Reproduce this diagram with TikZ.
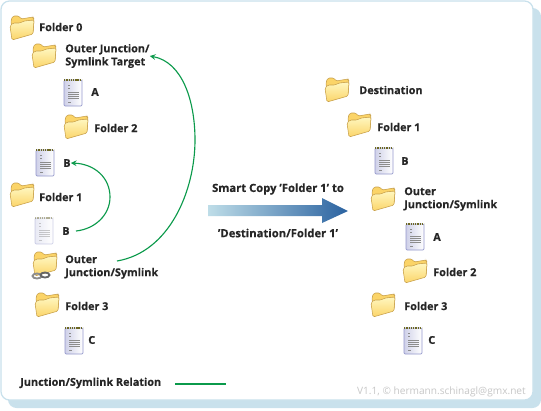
\documentclass[tikz,border=0pt]{standalone}
\usepackage{fontspec}
\setmainfont[BoldFeatures={FakeBold=0.35}]{Open Sans}
\definecolor{panelblue}{HTML}{C9E1EC}
\definecolor{linkgreen}{HTML}{0B9A4B}
\definecolor{foldedge}{HTML}{C8A04A}
\definecolor{foldlight}{HTML}{FFF7C0}
\definecolor{folddark}{HTML}{FBD468}
\definecolor{docedge}{HTML}{9498CC}
\definecolor{arrowlight}{HTML}{BEDDE8}
\definecolor{arrowdark}{HTML}{2A62A0}
\begin{document}
\begin{tikzpicture}[
    x=0.025cm, y=-0.025cm,
    lbl/.style={anchor=west, inner sep=0pt, align=left, font=\fontsize{7.7}{9.3}\selectfont, text=black!85},
    relation/.style={->, >=stealth, line width=0.8pt, color=linkgreen},
    folder/.pic={
        \draw[foldedge, line width=0.4pt, fill=folddark, rounded corners=1pt] (-10,5) -- (-11,-8) -- (-9,-12) -- (-3,-12) -- (-1,-9) -- (11,-11) -- (12,-9) -- (11,5) -- cycle;
        \shade[top color=foldlight, bottom color=folddark, draw=foldedge, line width=0.4pt, rounded corners=1pt]
            (-10,12) -- (-12,-2) -- (-9,-5) -- (-2,-5) -- (2,-7) -- (12,-8) -- (11,6) -- cycle;
    },
    notepad/.pic={
        \shade[left color=docedge!45, right color=white, draw=docedge, line width=0.5pt, rounded corners=0.8pt] (-9,-12) rectangle (9,14);
        \draw[olive!70!black, line width=1pt, dash pattern=on 1pt off 0.6pt] (-9,-12) -- (9,-12);
        \foreach \ly/\lx in {-7/-3, -4/-3, 0/6, 2/6, 4/6, 6/6, 10/-2} {
            \draw[black!45, line width=0.45pt] (-5,\ly) -- (\lx,\ly);
        }
    },
    linkbadge/.pic={
        \draw[black!45, line width=1.3pt] (-4,0) ellipse (4.5 and 2.5);
        \draw[black!60, line width=1.3pt] (4,-1) ellipse (4.5 and 2.5);
    }
]
\useasboundingbox (0,0) rectangle (541,410);
% panel
\fill[panelblue, rounded corners=6pt] (8,8) rectangle (541,408);
\draw[panelblue, fill=white, line width=0.9pt, rounded corners=6pt] (1,1) rectangle (533,400);

% source tree
\pic (fold0) at (22,28) {folder};
\node[lbl] (txtfold0) at (39,27) {\bfseries Folder 0};
\pic (foldtgt) at (44,56) {folder};
\node[lbl] (txttgt) at (65,56) {\bfseries Outer Junction/\\\bfseries Symlink Target};
\pic (docA) at (73,92) {notepad};
\node[lbl] (txtA) at (91,92) {\bfseries A};
\pic (fold2) at (76,127) {folder};
\node[lbl] (txtfold2) at (94,128) {\bfseries Folder 2};
\pic (docB) at (45,162) {notepad};
\node[lbl] (txtB) at (63,163) {\bfseries B};
\pic (fold1) at (22,195) {folder};
\node[lbl] (txtfold1) at (39,197) {\bfseries Folder 1};
\pic[opacity=0.45] (docBlink) at (44,230) {notepad};
\node[lbl] (txtBlink) at (62,231) {\bfseries B};
\pic (foldjnc) at (45,264) {folder};
\pic (chain) at (41,276) {linkbadge};
\node[lbl] (txtjnc) at (65,267) {\bfseries Outer\\\bfseries Junction/Symlink};
\pic (fold3) at (47,305) {folder};
\node[lbl] (txtfold3) at (65,306) {\bfseries Folder 3};
\pic (docC) at (74,340) {notepad};
\node[lbl] (txtC) at (88,340) {\bfseries C};

% destination tree
\pic (folddst) at (337,90) {folder};
\node[lbl] (txtdst) at (359,90) {\bfseries Destination};
\pic (dfold1) at (359,125) {folder};
\node[lbl] (txtdfold1) at (377,127) {\bfseries Folder 1};
\pic (ddocB) at (384,160) {notepad};
\node[lbl] (txtdB) at (401,161) {\bfseries B};
\pic (dfoldjnc) at (383,199) {folder};
\node[lbl] (txtdjnc) at (404,199) {\bfseries Outer\\\bfseries Junction/Symlink};
\pic (ddocA) at (415,236) {notepad};
\node[lbl] (txtdA) at (433,237) {\bfseries A};
\pic (dfold2) at (415,271) {folder};
\node[lbl] (txtdfold2) at (433,272) {\bfseries Folder 2};
\pic (dfold3) at (383,305) {folder};
\node[lbl] (txtdfold3) at (404,306) {\bfseries Folder 3};
\pic (ddocC) at (413,340) {notepad};
\node[lbl] (txtdC) at (428,340) {\bfseries C};

% relations
\coordinate (jncstart) at (117,261);
\coordinate (bstart) at (76,231);
\draw[relation] (jncstart) .. controls (170,252) and (195,190) .. (195,140)
    .. controls (195,100) and (182,62) .. (txttgt.east);
\draw[relation] (bstart) .. controls (95,229) and (110,215) .. (110,197)
    .. controls (110,178) and (95,164) .. (txtB.east);

% copy arrow
\node[lbl, anchor=center, font=\fontsize{8}{9.3}\selectfont] (smart) at (278,189) {\bfseries Smart Copy 'Folder 1' to};
\node[lbl, anchor=center, font=\fontsize{8}{9.3}\selectfont] (smartdst) at (278,233) {\bfseries 'Destination/Folder 1'};
\shade[left color=arrowlight, right color=arrowdark] (208,205) -- (322,205) -- (322,198) -- (348,211) -- (322,223) -- (322,216) -- (208,216) -- cycle;

% legend
\node[lbl] (legend) at (20,383) {\bfseries Junction/Symlink Relation};
\coordinate (legleft) at (175,384);
\coordinate (legright) at (226,384);
\draw[linkgreen, line width=0.8pt] (legleft) -- (legright);
\node[anchor=east, inner sep=0pt, font=\fontsize{7.2}{9}\selectfont, text=black!22] (version) at (526,392) {V1.1, © hermann.schinagl@gmx.net};
\end{tikzpicture}
\end{document}
